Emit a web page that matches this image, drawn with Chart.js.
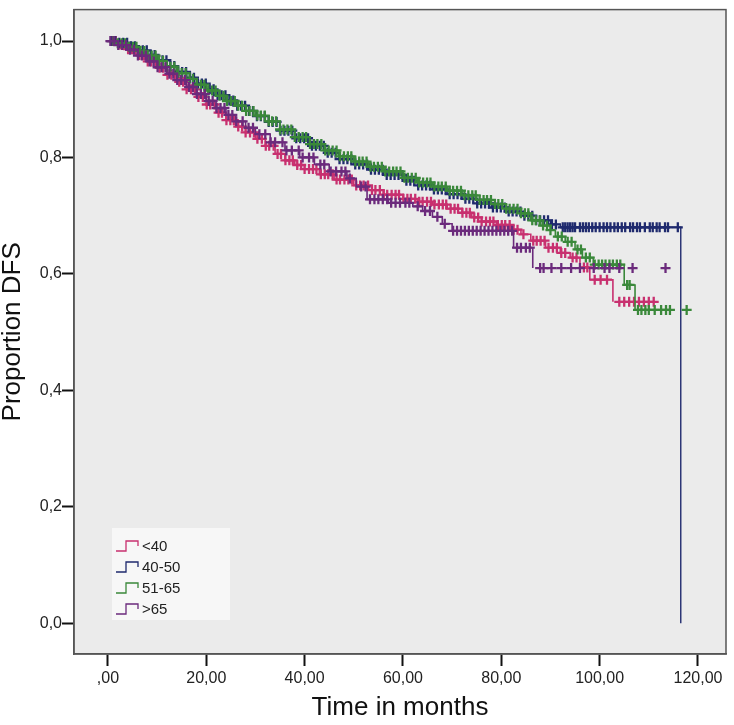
<!DOCTYPE html>
<html>
<head>
<meta charset="utf-8">
<script src="https://cdn.jsdelivr.net/npm/chart.js@4/dist/chart.umd.min.js"></script>
<style>
html,body{margin:0;padding:0;background:#fff;}
#wrap{width:734px;height:725px;position:relative;}
</style>
</head>
<body>
<div id="wrap"><canvas id="c" width="734" height="725"></canvas></div>
<script>
// ---- data ----
const groupLabels = ['<40', '40-50', '51-65', '>65'];
const groupColors = ['#c8306f', '#1f2a6e', '#3a883a', '#6b2a7c'];

const xTicks = [0, 20, 40, 60, 80, 100, 120];
const yTicks = [0, 0.2, 0.4, 0.6, 0.8, 1.0];

// survival steps [time, proportion after event]
const survLt40 = [[0,1],[2,0.994],[4,0.986],[6,0.976],[8,0.965],[10,0.954],[12,0.942],[14,0.93],[16,0.917],[18,0.904],[20,0.891],[22,0.877],[24,0.864],[26,0.853],[28,0.843],[30,0.832],[32,0.82],[34,0.806],[36,0.795],[38,0.787],[40,0.78],[43,0.771],[46,0.762],[50,0.752],[53,0.744],[56,0.736],[60,0.729],[63,0.724],[66,0.719],[69,0.712],[72,0.705],[74,0.697],[76,0.69],[79,0.684],[82,0.676],[84,0.668],[86,0.657],[89,0.645],[92,0.636],[94,0.628],[96,0.611],[98,0.59],[102.7,0.552]];
const surv4050 = [[0,1],[2,0.997],[4,0.991],[6,0.984],[8,0.976],[10,0.967],[12,0.957],[14,0.947],[16,0.937],[18,0.927],[20,0.917],[22,0.907],[24,0.898],[26,0.889],[28,0.88],[30,0.871],[32,0.861],[35,0.846],[38,0.833],[41,0.82],[44,0.808],[47,0.797],[50,0.788],[53,0.779],[56,0.77],[60,0.76],[63,0.752],[66,0.745],[69,0.737],[72,0.729],[75,0.721],[78,0.714],[81,0.707],[84,0.7],[87,0.692],[90,0.685],[92,0.68],[116.5,0]];
const surv5165 = [[0,1],[2,0.996],[4,0.99],[6,0.983],[8,0.975],[10,0.966],[12,0.956],[14,0.945],[16,0.935],[18,0.925],[20,0.915],[22,0.906],[24,0.897],[26,0.889],[28,0.88],[30,0.872],[32,0.862],[35,0.848],[38,0.835],[41,0.823],[44,0.812],[47,0.802],[50,0.793],[53,0.784],[56,0.776],[60,0.765],[63,0.757],[66,0.75],[69,0.743],[72,0.735],[75,0.727],[78,0.72],[81,0.712],[84,0.704],[86,0.692],[88,0.683],[90,0.675],[91,0.664],[93,0.655],[95,0.642],[96.5,0.628],[98.7,0.616],[105,0.581],[107.2,0.538]];
const survGt65 = [[0,1],[2,0.993],[4,0.985],[6,0.975],[8,0.965],[10,0.955],[12,0.944],[14,0.933],[16,0.921],[18,0.909],[20,0.897],[22,0.885],[24,0.873],[26,0.862],[28,0.851],[30,0.84],[33,0.826],[36,0.812],[39,0.8],[42,0.788],[45,0.776],[48.6,0.764],[50.5,0.75],[52.7,0.728],[57,0.722],[62,0.716],[64,0.708],[66,0.698],[68,0.686],[70,0.674],[82.5,0.645],[86.4,0.61]];

// censored observation times
const censLt40 = [0.8,1.6,2.5,3.2,4.1,4.9,5.6,6.4,7.3,8.1,8.8,9.7,10.5,11.2,12.1,12.9,13.6,14.5,15.3,16.0,16.9,17.7,18.4,19.3,20.1,20.8,21.7,22.5,23.2,24.1,24.9,25.6,26.5,27.3,28.0,28.9,29.7,30.4,31.3,32.1,32.8,33.7,34.5,35.2,36.1,36.9,37.6,38.5,39.3,40.0,40.9,41.7,42.4,43.3,44.1,44.8,45.7,46.5,47.2,48.1,48.9,49.6,50.5,51.3,52.0,52.9,53.7,54.4,55.3,56.1,56.8,57.7,58.5,59.2,60.1,60.9,61.6,62.5,63.3,64.0,64.9,65.7,66.4,67.3,68.1,68.8,69.7,70.5,71.2,72.1,72.9,73.6,74.5,75.3,76.0,76.9,77.7,78.4,79.3,80.1,80.8,81.7,82.5,83.3,84.5,86.5,87.2,88.0,88.8,89.6,90.5,91.3,92.2,93.0,94.5,95.3,96.8,97.5,99.0,100.2,101.5,104.0,105.0,106.0,107.0,108.0,109.0,110.0,111.0];
const cens4050 = [0.7,1.5,2.3,3.1,3.9,4.7,5.5,6.3,7.1,7.9,8.7,9.5,10.3,11.1,11.9,12.7,13.5,14.3,15.1,15.9,16.7,17.5,18.3,19.1,19.9,20.7,21.5,22.3,23.1,23.9,24.7,25.5,26.3,27.1,27.9,28.7,29.5,30.3,31.1,31.9,32.7,33.5,34.3,35.1,35.9,36.7,37.5,38.3,39.1,39.9,40.7,41.5,42.3,43.1,43.9,44.7,45.5,46.3,47.1,47.9,48.7,49.5,50.3,51.1,51.9,52.7,53.5,54.3,55.1,55.9,56.7,57.5,58.3,59.1,59.9,60.7,61.5,62.3,63.1,63.9,64.7,65.5,66.3,67.1,67.9,68.7,69.5,70.3,71.1,71.9,72.7,73.5,74.3,75.1,75.9,76.7,77.5,78.3,79.1,79.9,80.7,81.5,82.3,83.1,83.9,84.7,85.5,86.3,87.1,87.9,88.7,89.5,90.3,91.1,92.5,93.0,93.5,94.0,94.5,95.0,96.0,96.6,97.2,97.8,98.5,99.2,100.0,100.8,101.5,102.2,103.0,103.7,104.5,105.2,106.2,106.8,107.6,108.2,109.2,110.2,110.8,111.6,112.2,113.3,113.9,115.9];
const cens5165 = [1.2,2.0,2.8,3.5,4.3,5.1,5.8,6.6,7.4,8.1,8.9,9.7,10.4,11.2,12.0,12.7,13.5,14.3,15.0,15.8,16.6,17.3,18.1,18.9,19.6,20.4,21.2,21.9,22.7,23.5,24.2,25.0,25.8,26.5,27.3,28.1,28.8,29.6,30.4,31.1,31.9,32.7,33.4,34.2,35.0,35.7,36.5,37.3,38.0,38.8,39.6,40.3,41.1,41.9,42.6,43.4,44.2,44.9,45.7,46.5,47.2,48.0,48.8,49.5,50.3,51.1,51.8,52.6,53.4,54.1,54.9,55.7,56.4,57.2,58.0,58.7,59.5,60.3,61.0,61.8,62.6,63.3,64.1,64.9,65.6,66.4,67.2,67.9,68.7,69.5,70.2,71.0,71.8,72.5,73.3,74.1,74.8,75.6,76.4,77.1,77.9,78.7,79.4,80.2,81.0,81.7,82.5,83.3,84.0,84.8,85.5,86.3,87.0,87.8,88.5,89.3,90.0,91.5,92.3,93.5,94.3,95.5,96.2,97.2,98.0,99.0,99.8,100.5,101.2,102.0,102.7,103.5,104.2,105.6,106.1,107.8,108.5,109.3,110.0,111.2,112.5,113.5,114.3,117.7];
const censGt65 = [0.5,1.3,2.1,2.9,3.7,4.5,5.3,6.1,6.9,7.7,8.5,9.3,10.1,10.9,11.7,12.5,13.3,14.1,14.9,15.7,16.5,17.3,18.1,18.9,19.7,20.5,21.3,22.1,22.9,23.7,24.5,25.3,26.1,27.4,28.6,29.5,30.8,32.0,33.1,34.0,35.5,36.3,37.4,38.8,39.6,40.9,41.8,43.2,44.0,45.3,46.4,47.5,48.3,49.2,51.5,52.4,53.3,54.2,55.0,55.9,56.8,57.6,58.5,59.4,60.5,61.3,63.0,64.5,65.5,67.0,68.5,70.2,71.0,71.8,72.6,73.4,74.2,75.0,75.8,76.6,77.4,78.2,79.0,79.8,80.6,81.4,82.2,83.2,84.0,85.0,85.8,87.9,88.6,90.2,92.2,94.2,96.0,98.8,101.0,102.0,104.0,106.7,113.4];

// ---- helpers ----
function stepPoints(surv){ return surv.map(p => ({x:p[0], y:p[1]})); }
function valueAt(surv, t){
  let v = surv[0][1];
  for (const p of surv){ if (p[0] <= t) v = p[1]; else break; }
  return v;
}
function censorPoints(surv, times){ return times.map(t => ({x:t, y:valueAt(surv, t)})); }

const survs = [survLt40, surv4050, surv5165, survGt65];
const cens = [censLt40, cens4050, cens5165, censGt65];
const drawOrder = [4, 3, 2, 1];

const datasets = [];
for (let i = 0; i < 4; i++){
  datasets.push({
    label: groupLabels[i], data: stepPoints(survs[i]), stepped: 'before',
    borderColor: groupColors[i], borderWidth: i === 1 ? 1.4 : 1.6, pointRadius: 0, fill: false,
    order: drawOrder[i]*2
  });
  datasets.push({
    label: groupLabels[i] + ' censored', data: censorPoints(survs[i], cens[i]), showLine: false,
    pointStyle: 'cross', pointRadius: 5, pointBorderWidth: 2.3,
    borderColor: groupColors[i], backgroundColor: groupColors[i],
    order: drawOrder[i]*2 - 1
  });
}

const TICK_FONT = {family: "'Liberation Sans', Arial, sans-serif", size: 16};
const TITLE_FAMILY = "'Liberation Sans Narrow', 'Arial Narrow', 'Liberation Sans', Arial, sans-serif";

const framePlugin = {
  id: 'frame',
  beforeDraw(chart){
    const {ctx, chartArea: a} = chart;
    ctx.save();
    ctx.fillStyle = '#ffffff';
    ctx.fillRect(0, 0, chart.width, chart.height);
    ctx.fillStyle = '#ebebeb';
    ctx.fillRect(a.left, a.top, a.right - a.left, a.bottom - a.top);
    ctx.restore();
  },
  afterDraw(chart){
    const {ctx, chartArea: a} = chart;
    ctx.save();
    ctx.strokeStyle = '#555555';
    ctx.lineWidth = 1.5;
    ctx.strokeRect(a.left, a.top, a.right - a.left, a.bottom - a.top);
    // legend box
    const lx = 112, ly = 528, lw = 118, lh = 92;
    ctx.fillStyle = '#f7f7f7';
    ctx.fillRect(lx, ly, lw, lh);
    const rowY = [546, 567, 588, 609];
    ctx.font = "15px 'Liberation Sans', Arial, sans-serif";
    ctx.textBaseline = 'middle';
    for (let i = 0; i < 4; i++){
      const y = rowY[i];
      ctx.strokeStyle = groupColors[i];
      ctx.lineWidth = 1.3;
      ctx.beginPath();
      ctx.moveTo(116, y + 5);
      ctx.lineTo(126, y + 5);
      ctx.lineTo(126, y - 5);
      ctx.lineTo(138, y - 5);
      ctx.lineTo(138, y);
      ctx.stroke();
      ctx.fillStyle = '#222';
      ctx.fillText(groupLabels[i], 142, y + 1);
    }
    ctx.restore();
  }
};

new Chart(document.getElementById('c'), {
  type: 'line',
  data: {datasets},
  plugins: [framePlugin],
  options: {
    responsive: false,
    animation: false,
    layout: {padding: {left: 0, right: 8, top: 1, bottom: 0}},
    plugins: {legend: {display: false}, tooltip: {enabled: false}},
    scales: {
      x: {
        type: 'linear', min: -6.9, max: 125.7,
        afterBuildTicks: s => { s.ticks = xTicks.map(v => ({value: v})); },
        afterFit: s => { s.height = 71; },
        ticks: {
          font: TICK_FONT, color: '#222', padding: 3, maxRotation: 0, autoSkip: false,
          callback: v => (v === 0 ? ',00' : v.toFixed(2).replace('.', ','))
        },
        grid: {drawOnChartArea: false, drawTicks: true, tickLength: 12, tickWidth: 2, tickColor: '#111'},
        border: {display: true, color: '#555', width: 1.5},
        title: {display: true, text: 'Time in months', color: '#111',
                font: {family: TITLE_FAMILY, size: 26, lineHeight: 1}, padding: {top: 0, bottom: 4}}
      },
      y: {
        type: 'linear', min: -0.053, max: 1.054,
        afterBuildTicks: s => { s.ticks = yTicks.map(v => ({value: v})); },
        afterFit: s => { s.width = 74; },
        ticks: {
          font: TICK_FONT, color: '#222', padding: 0, autoSkip: false,
          callback: v => v.toFixed(1).replace('.', ',')
        },
        grid: {drawOnChartArea: false, drawTicks: true, tickLength: 12, tickWidth: 2, tickColor: '#111'},
        border: {display: true, color: '#555', width: 1.5},
        title: {display: true, text: 'Proportion DFS', color: '#111',
                font: {family: TITLE_FAMILY, size: 26, lineHeight: 1}, padding: {top: 0, bottom: 0}}
      }
    }
  }
});
</script>
</body>
</html>
